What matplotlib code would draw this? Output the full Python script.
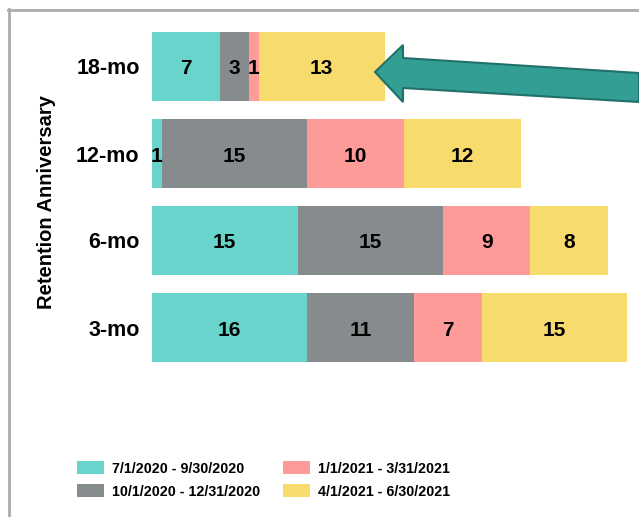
import matplotlib
matplotlib.use("Agg")
import matplotlib.pyplot as plt
from matplotlib.patches import Polygon
from matplotlib.lines import Line2D

plt.rcParams['font.family'] = ['Liberation Sans', 'DejaVu Sans']

categories = ["3-mo", "6-mo", "12-mo", "18-mo"]
series_names = ["7/1/2020 - 9/30/2020", "10/1/2020 - 12/31/2020",
                "1/1/2021 - 3/31/2021", "4/1/2021 - 6/30/2021"]
q3_2020 = [16, 15, 1, 7]
q4_2020 = [11, 15, 15, 3]
q1_2021 = [7, 9, 10, 1]
q2_2021 = [15, 8, 12, 13]
colors = ["#68d4cb", "#868c8e", "#fd9b98", "#f7db6c"]

W, H = 639, 517
fig = plt.figure(figsize=(W / 100, H / 100), dpi=100)
ax = fig.add_axes([152 / W, 1 - 371 / H, (W - 152) / W, 348 / H])

ypos = list(range(len(categories)))
left = [0] * len(categories)
handles = []
for vals, name, col in zip([q3_2020, q4_2020, q1_2021, q2_2021], series_names, colors):
    bars = ax.barh(ypos, vals, left=left, height=0.79, color=col, label=name)
    handles.append(bars)
    for y, v, l in zip(ypos, vals, left):
        ax.annotate(str(v), (l + v / 2, y), xytext=(0, -1.8), textcoords='offset points',
                    ha='center', va='center', fontsize=15, fontweight='bold', color='black')
    left = [a + b for a, b in zip(left, vals)]

ax.set_xlim(0, 50.2)
ax.set_ylim(-0.5, 3.5)
ax.set_yticks(ypos)
ax.set_yticklabels(categories, fontsize=15.5, fontweight='bold')
ax.tick_params(axis='y', length=0, pad=9)
ax.set_xticks([])
for s in ax.spines.values():
    s.set_visible(False)

fig.text(47 / W, 1 - 202 / H, "Retention Anniversary", rotation=90,
         ha='center', va='center', fontsize=14.5, fontweight='bold')

fs = 10.3
fig.legend(handles=handles, labels=series_names, ncol=2,
           loc='upper left', bbox_to_anchor=(77 / W, 1 - 461 / H),
           frameon=False, borderpad=0, borderaxespad=0,
           prop={'size': fs, 'weight': 'bold'},
           handlelength=1.9, handleheight=1.05, columnspacing=1.6,
           labelspacing=0.6, handletextpad=0.55)

# frame lines
fig.add_artist(Line2D([8.5 / W, 8.5 / W], [1 - 9 / H, 0], transform=fig.transFigure,
                      color='#ababab', lw=2))
fig.add_artist(Line2D([8 / W, 1], [1 - 9.5 / H, 1 - 9.5 / H], transform=fig.transFigure,
                      color='#ababab', lw=2))

# arrow callout
pts = [(375, 72), (403, 45), (403, 58), (639, 73), (639, 102), (403, 88), (403, 102)]
arrow = Polygon([(x / W, 1 - y / H) for x, y in pts], closed=True,
                transform=fig.transFigure, facecolor='#339e93',
                edgecolor='#22706a', lw=1.5, clip_on=False)
fig.add_artist(arrow)

fig.savefig("out.png", dpi=100)
